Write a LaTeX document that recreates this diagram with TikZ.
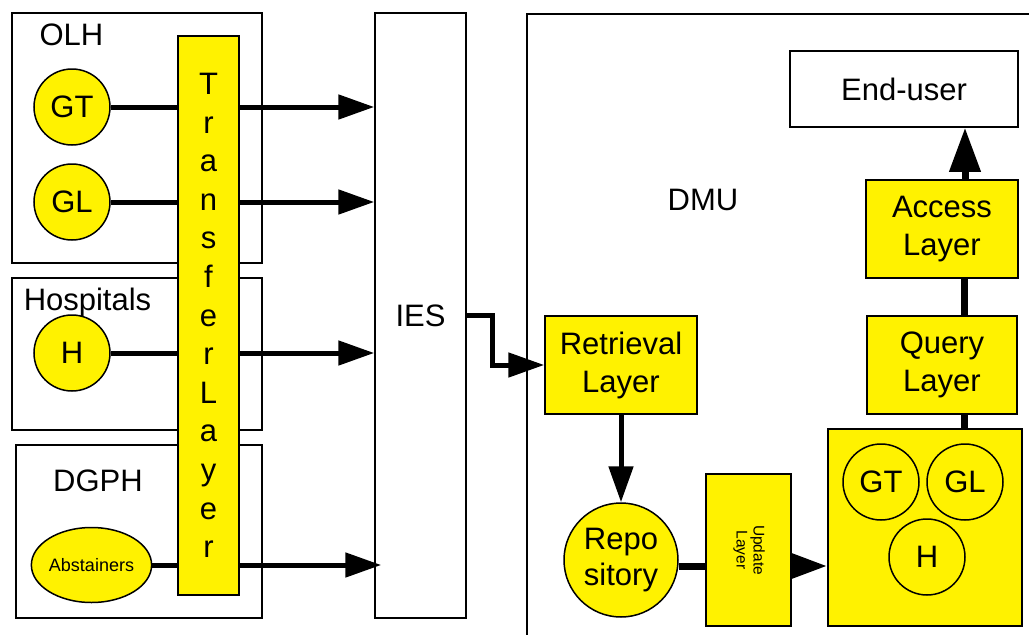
\documentclass[tikz,border=0pt]{standalone}
\usepackage{fontspec}
\setmainfont{Liberation Sans}
\usetikzlibrary{arrows.meta,shapes.geometric}

\tikzset{
  box/.style={draw, line width=1.5pt},
  layer/.style={draw, fill=yellow, line width=1.5pt, align=center, inner sep=0pt},
  disc/.style={circle, draw, fill=yellow, line width=1.5pt, align=center,
    minimum size=76pt, inner sep=0pt},
  flow/.style={line width=5pt, -{Triangle[length=36pt, width=24pt]}},
  link/.style={line width=7pt},
}

\begin{document}
\begin{tikzpicture}[x=1pt, y=-1pt, every node/.style={font=\fontsize{31}{38}\selectfont}]

  % page size of the reference (1px = 1pt, y downwards)
  \useasboundingbox (0,0) rectangle (1029,635);

  % source boxes
  \node[box, minimum width=250pt, minimum height=250pt] (olh) at (137,138) {};
  \node[box, minimum width=250pt, minimum height=152pt] (hosp) at (137,354) {};
  \node[box, minimum width=246pt, minimum height=173pt] (dgph) at (139,531.5) {};
  \node (olhlbl) at (71.5,34.5) {OLH};
  \node (hosplbl) at (87.5,302) {Hospitals};
  \node (dgphlbl) at (98,481) {DGPH};

  \node[disc] (gt) at (72,107) {GT};
  \node[disc] (gl) at (72,202) {GL};
  \node[disc] (h) at (72,353) {H};
  \node[ellipse, draw, fill=yellow, line width=1.5pt, inner sep=0pt,
    minimum width=113pt, minimum height=75pt,
    font=\fontsize{18}{22}\selectfont] (abst) at (91.5,565) {Abstainers};

  % exchange between the sources and the DMU
  \node[box, minimum width=91pt, minimum height=605pt] (ies) at (420.5,315.5) {IES};

  \draw[flow] (gt.east) -- (gt.east -| ies.west);
  \draw[flow] (gl.east) -- (gl.east -| ies.west);
  \draw[flow] (h.east) -- (h.east -| ies.west);
  \draw[flow] (abst.east) -- ([xshift=7pt]abst.east -| ies.west);

  \node[layer, minimum width=61pt, minimum height=559pt,
    font=\fontsize{31}{38.6}\selectfont] (transfer) at (208.5,315.5)
    {T\\r\\a\\n\\s\\f\\e\\r\\L\\a\\y\\e\\r};

  % DMU
  \node[box, anchor=north west, minimum width=540pt, minimum height=660pt] (dmu) at (526,13) {};
  \node (dmulbl) at (703,200) {DMU};

  \node[layer, minimum width=152pt, minimum height=98pt] (ret) at (621,365) {Retrieval\\Layer};
  \node[disc, minimum size=114pt, font=\fontsize{31}{36}\selectfont] (repo) at (621,560) {Repo\\sitory};
  \node[layer, minimum width=85pt, minimum height=152pt,
    font=\fontsize{15.5}{17}\selectfont] (upd) at (748.5,550)
    {\rotatebox{-90}{\begin{tabular}{@{}c@{}}Update\\Layer\end{tabular}}};

  \node[layer, minimum width=194pt, minimum height=197pt] (store) at (925,527.5) {};
  \node[disc] (gtr) at (881,482) {GT};
  \node[disc] (glr) at (965,482) {GL};
  \node[disc] (hr) at (927,557) {H};

  \node[layer, minimum width=150pt, minimum height=98pt] (query) at (942,365) {Query\\Layer};
  \node[layer, minimum width=152pt, minimum height=98pt] (access) at (942,229) {Access\\Layer};
  \node[box, fill=white, minimum width=228pt, minimum height=76pt] (enduser) at (904,89) {End-user};

  \draw[flow] (ies.east) -- ++(26,0) |- (ret.west);
  \draw[flow] (ret.south) -- (repo.north);
  \draw[link] ([yshift=-6pt]repo.east) -- ([yshift=-6pt]repo.east -| upd.west);
  \draw[flow, line width=7pt] ([yshift=-6pt]upd.east |- repo.east) -- ([yshift=-6pt]repo.east -| store.west);
  \draw[link] ([xshift=22pt]query.south) -- ([xshift=22pt]query.south |- store.north);
  \draw[link] ([xshift=22pt]query.north) -- ([xshift=22pt]access.south);
  \draw[line width=7pt, -{Triangle[length=44pt, width=30pt]}]
    ([xshift=23pt]access.north) -- ([xshift=23pt]access.north |- enduser.south);

\end{tikzpicture}
\end{document}
